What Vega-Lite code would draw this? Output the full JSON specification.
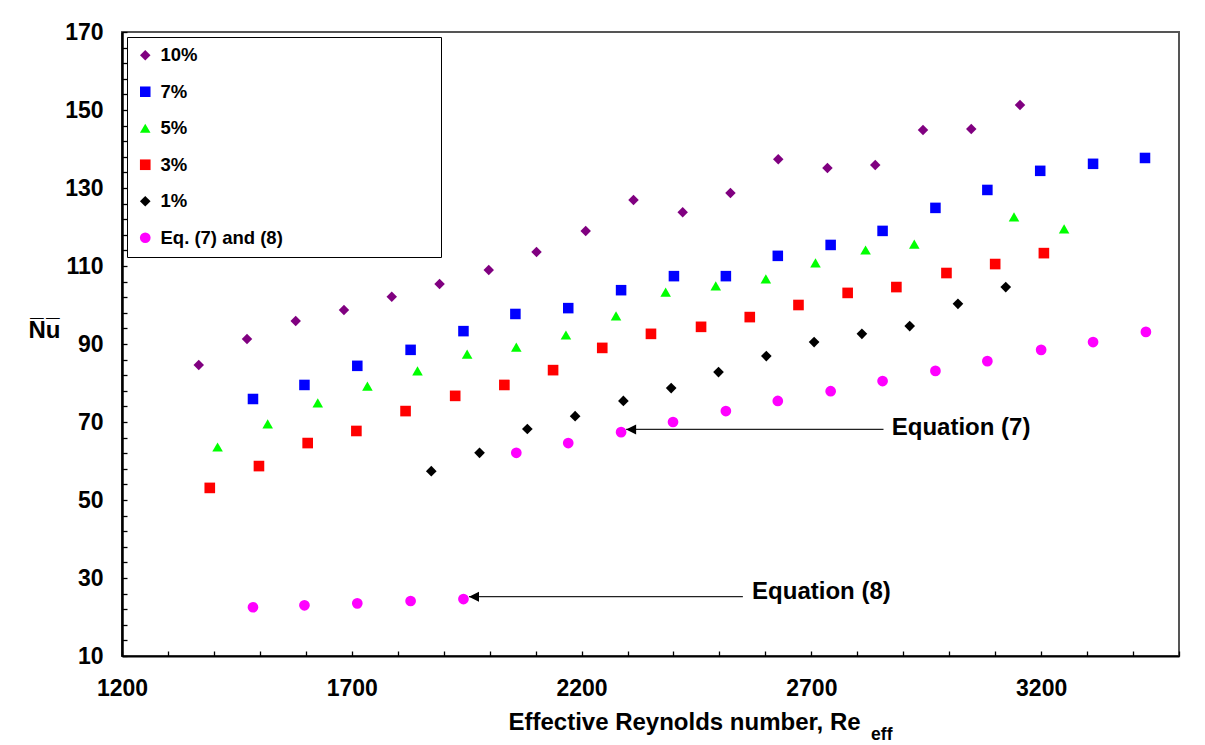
{
  "$schema": "https://vega.github.io/schema/vega-lite/v6.json",
  "width": 1057,
  "height": 624,
  "autosize": {"type": "none"},
  "padding": {"left": 122, "top": 32, "right": 26, "bottom": 89},
  "background": "white",
  "config": {
    "font": "Liberation Sans",
    "view": {"stroke": "#555555", "strokeWidth": 2},
    "axis": {
      "grid": false,
      "domainColor": "black",
      "domainWidth": 2,
      "tickColor": "black",
      "tickWidth": 1.3,
      "tickSize": -5,
      "labelFont": "Liberation Sans",
      "labelFontSize": 23,
      "labelFontWeight": "bold",
      "labelColor": "black",
      "titleFont": "Liberation Sans",
      "titleFontSize": 24,
      "titleFontWeight": "bold",
      "titleColor": "black"
    },
    "legend": {
      "orient": "none",
      "legendX": 5,
      "legendY": 5,
      "fillColor": "white",
      "strokeColor": "black",
      "strokeWidth": 1,
      "padding": 9,
      "rowPadding": 17.5,
      "labelFont": "Liberation Sans",
      "labelFontSize": 18.5,
      "labelFontWeight": "bold",
      "labelColor": "black",
      "labelOffset": 6,
      "labelLimit": 500,
      "symbolSize": 100,
      "symbolStrokeWidth": 0
    }
  },
  "datasets": {
    "points": [
      {"series": "10%", "re": 1367, "nu": 84.6},
      {"series": "10%", "re": 1472, "nu": 91.3},
      {"series": "10%", "re": 1578, "nu": 95.9},
      {"series": "10%", "re": 1683, "nu": 98.7},
      {"series": "10%", "re": 1787, "nu": 102.1},
      {"series": "10%", "re": 1891, "nu": 105.4},
      {"series": "10%", "re": 1998, "nu": 109.0},
      {"series": "10%", "re": 2102, "nu": 113.6},
      {"series": "10%", "re": 2209, "nu": 119.0},
      {"series": "10%", "re": 2313, "nu": 126.9},
      {"series": "10%", "re": 2420, "nu": 123.8},
      {"series": "10%", "re": 2524, "nu": 128.7},
      {"series": "10%", "re": 2628, "nu": 137.4},
      {"series": "10%", "re": 2735, "nu": 135.1},
      {"series": "10%", "re": 2839, "nu": 135.9},
      {"series": "10%", "re": 2943, "nu": 144.9},
      {"series": "10%", "re": 3048, "nu": 145.1},
      {"series": "10%", "re": 3154, "nu": 151.3},
      {"series": "7%", "re": 1485, "nu": 75.9},
      {"series": "7%", "re": 1597, "nu": 79.5},
      {"series": "7%", "re": 1712, "nu": 84.4},
      {"series": "7%", "re": 1828, "nu": 88.5},
      {"series": "7%", "re": 1943, "nu": 93.3},
      {"series": "7%", "re": 2056, "nu": 97.7},
      {"series": "7%", "re": 2171, "nu": 99.2},
      {"series": "7%", "re": 2286, "nu": 103.8},
      {"series": "7%", "re": 2401, "nu": 107.4},
      {"series": "7%", "re": 2514, "nu": 107.4},
      {"series": "7%", "re": 2627, "nu": 112.6},
      {"series": "7%", "re": 2742, "nu": 115.4},
      {"series": "7%", "re": 2855, "nu": 119.0},
      {"series": "7%", "re": 2970, "nu": 124.9},
      {"series": "7%", "re": 3083, "nu": 129.5},
      {"series": "7%", "re": 3198, "nu": 134.4},
      {"series": "7%", "re": 3313, "nu": 136.2},
      {"series": "7%", "re": 3426, "nu": 137.7},
      {"series": "5%", "re": 1408, "nu": 63.6},
      {"series": "5%", "re": 1517, "nu": 69.5},
      {"series": "5%", "re": 1626, "nu": 74.9},
      {"series": "5%", "re": 1734, "nu": 79.2},
      {"series": "5%", "re": 1843, "nu": 83.1},
      {"series": "5%", "re": 1951, "nu": 87.4},
      {"series": "5%", "re": 2058, "nu": 89.2},
      {"series": "5%", "re": 2166, "nu": 92.3},
      {"series": "5%", "re": 2275, "nu": 97.2},
      {"series": "5%", "re": 2383, "nu": 103.3},
      {"series": "5%", "re": 2492, "nu": 104.9},
      {"series": "5%", "re": 2601, "nu": 106.7},
      {"series": "5%", "re": 2709, "nu": 110.8},
      {"series": "5%", "re": 2818, "nu": 114.1},
      {"series": "5%", "re": 2924, "nu": 115.6},
      {"series": "5%", "re": 3141, "nu": 122.6},
      {"series": "5%", "re": 3250, "nu": 119.5},
      {"series": "3%", "re": 1391, "nu": 53.1},
      {"series": "3%", "re": 1498, "nu": 58.7},
      {"series": "3%", "re": 1604, "nu": 64.6},
      {"series": "3%", "re": 1710, "nu": 67.7},
      {"series": "3%", "re": 1817, "nu": 72.8},
      {"series": "3%", "re": 1925, "nu": 76.7},
      {"series": "3%", "re": 2032, "nu": 79.5},
      {"series": "3%", "re": 2138, "nu": 83.3},
      {"series": "3%", "re": 2245, "nu": 89.0},
      {"series": "3%", "re": 2351, "nu": 92.6},
      {"series": "3%", "re": 2460, "nu": 94.4},
      {"series": "3%", "re": 2566, "nu": 96.9},
      {"series": "3%", "re": 2672, "nu": 100.0},
      {"series": "3%", "re": 2779, "nu": 103.1},
      {"series": "3%", "re": 2885, "nu": 104.6},
      {"series": "3%", "re": 2994, "nu": 108.2},
      {"series": "3%", "re": 3100, "nu": 110.5},
      {"series": "3%", "re": 3206, "nu": 113.3},
      {"series": "1%", "re": 1873, "nu": 57.4},
      {"series": "1%", "re": 1978, "nu": 62.1},
      {"series": "1%", "re": 2082, "nu": 68.2},
      {"series": "1%", "re": 2186, "nu": 71.5},
      {"series": "1%", "re": 2291, "nu": 75.4},
      {"series": "1%", "re": 2395, "nu": 78.7},
      {"series": "1%", "re": 2498, "nu": 82.8},
      {"series": "1%", "re": 2602, "nu": 86.9},
      {"series": "1%", "re": 2706, "nu": 90.5},
      {"series": "1%", "re": 2810, "nu": 92.6},
      {"series": "1%", "re": 2914, "nu": 94.6},
      {"series": "1%", "re": 3019, "nu": 100.3},
      {"series": "1%", "re": 3123, "nu": 104.6},
      {"series": "Eq. (7) and (8)", "re": 2058, "nu": 62.1},
      {"series": "Eq. (7) and (8)", "re": 2171, "nu": 64.6},
      {"series": "Eq. (7) and (8)", "re": 2286, "nu": 67.4},
      {"series": "Eq. (7) and (8)", "re": 2399, "nu": 70.0},
      {"series": "Eq. (7) and (8)", "re": 2514, "nu": 72.8},
      {"series": "Eq. (7) and (8)", "re": 2627, "nu": 75.4},
      {"series": "Eq. (7) and (8)", "re": 2742, "nu": 77.9},
      {"series": "Eq. (7) and (8)", "re": 2855, "nu": 80.5},
      {"series": "Eq. (7) and (8)", "re": 2970, "nu": 83.1},
      {"series": "Eq. (7) and (8)", "re": 3083, "nu": 85.6},
      {"series": "Eq. (7) and (8)", "re": 3200, "nu": 88.5},
      {"series": "Eq. (7) and (8)", "re": 3313, "nu": 90.5},
      {"series": "Eq. (7) and (8)", "re": 3428, "nu": 93.1},
      {"series": "Eq. (7) and (8)", "re": 1485, "nu": 22.5},
      {"series": "Eq. (7) and (8)", "re": 1597, "nu": 23.0},
      {"series": "Eq. (7) and (8)", "re": 1712, "nu": 23.5},
      {"series": "Eq. (7) and (8)", "re": 1828, "nu": 24.1},
      {"series": "Eq. (7) and (8)", "re": 1943, "nu": 24.6}
    ],
    "notes": [
      {"label": "Equation (7)", "tip": 2297, "end": 2857, "arrowNu": 68.1, "labelRe": 2875, "labelNu": 68.4},
      {"label": "Equation (8)", "tip": 1955, "end": 2551, "arrowNu": 25.2, "labelRe": 2571, "labelNu": 26.5}
    ],
    "subscript": [
      {"text": "eff", "re": 2830, "nu": -11.5}
    ]
  },
  "resolve": {"axis": {"y": "independent"}},
  "layer": [
    {
      "data": {"name": "notes"},
      "mark": {"type": "rule", "color": "#222222", "strokeWidth": 1.2},
      "encoding": {
        "x": {"field": "tip", "type": "quantitative"},
        "x2": {"field": "end"},
        "y": {
          "field": "arrowNu",
          "type": "quantitative",
          "axis": {
            "orient": "left",
            "values": [10, 14, 18, 22, 26, 30, 34, 38, 42, 46, 50, 54, 58, 62, 66, 70, 74, 78, 82, 86, 90, 94, 98, 102, 106, 110, 114, 118, 122, 126, 130, 134, 138, 142, 146, 150, 154, 158, 162, 166, 170],
            "labels": false,
            "title": null
          }
        }
      }
    },
    {
      "data": {"name": "notes"},
      "mark": {"type": "point", "shape": "M0,0L2,-1L2,1Z", "filled": true, "color": "black", "opacity": 1, "size": 100},
      "encoding": {
        "x": {"field": "tip", "type": "quantitative"},
        "y": {"field": "arrowNu", "type": "quantitative", "axis": null}
      }
    },
    {
      "data": {"name": "notes"},
      "mark": {"type": "text", "align": "left", "baseline": "middle", "font": "Liberation Sans", "fontSize": 24, "fontWeight": "bold", "color": "black"},
      "encoding": {
        "x": {"field": "labelRe", "type": "quantitative"},
        "y": {"field": "labelNu", "type": "quantitative", "axis": null},
        "text": {"field": "label"}
      }
    },
    {
      "data": {"name": "points"},
      "mark": {"type": "point", "filled": true, "opacity": 1, "strokeWidth": 0},
      "encoding": {
        "x": {
          "field": "re",
          "type": "quantitative",
          "scale": {"domain": [1200, 3500], "nice": false, "zero": false},
          "axis": {
            "values": [1200, 1300, 1400, 1500, 1600, 1700, 1800, 1900, 2000, 2100, 2200, 2300, 2400, 2500, 2600, 2700, 2800, 2900, 3000, 3100, 3200, 3300, 3400, 3500],
            "format": "d",
            "labelExpr": "(datum.value - 1200) % 500 == 0 ? datum.label : ''",
            "labelPadding": 26,
            "labelFlush": false,
            "labelOverlap": false,
            "title": "Effective Reynolds number, Re",
            "titleAnchor": "start",
            "titleX": 562,
            "titleY": 73,
            "titleAlign": "center",
            "titleBaseline": "alphabetic"
          }
        },
        "y": {
          "field": "nu",
          "type": "quantitative",
          "scale": {"domain": [10, 170], "nice": false, "zero": false},
          "axis": {
            "orient": "left",
            "values": [10, 30, 50, 70, 90, 110, 130, 150, 170],
            "format": "d",
            "ticks": false,
            "labelPadding": 19,
            "labelFlush": false,
            "labelOverlap": false,
            "title": "N\u0305u\u0305",
            "titleAngle": 0,
            "titleAnchor": "start",
            "titleX": -78,
            "titleY": 305,
            "titleAlign": "center",
            "titleBaseline": "alphabetic"
          }
        },
        "color": {
          "field": "series",
          "type": "nominal",
          "scale": {
            "domain": ["10%", "7%", "5%", "3%", "1%", "Eq. (7) and (8)"],
            "range": ["#800080", "#0000FF", "#00FF00", "#FF0000", "#000000", "#FF00FF"]
          },
          "legend": {
            "title": null,
            "labelExpr": "datum.label == 'Eq. (7) and (8)' ? datum.label + '\u00a0\u00a0\u00a0\u00a0\u00a0\u00a0\u00a0\u00a0\u00a0\u00a0\u00a0\u00a0\u00a0\u00a0\u00a0\u00a0\u00a0\u00a0\u00a0\u00a0\u00a0\u00a0\u00a0\u00a0\u00a0\u00a0\u00a0\u00a0\u00a0\u200b' : datum.label"
          }
        },
        "shape": {
          "field": "series",
          "type": "nominal",
          "scale": {
            "domain": ["10%", "7%", "5%", "3%", "1%", "Eq. (7) and (8)"],
            "range": ["diamond", "square", "triangle-up", "square", "diamond", "circle"]
          },
          "legend": {
            "title": null,
            "labelExpr": "datum.label == 'Eq. (7) and (8)' ? datum.label + '\u00a0\u00a0\u00a0\u00a0\u00a0\u00a0\u00a0\u00a0\u00a0\u00a0\u00a0\u00a0\u00a0\u00a0\u00a0\u00a0\u00a0\u00a0\u00a0\u00a0\u00a0\u00a0\u00a0\u00a0\u00a0\u00a0\u00a0\u00a0\u00a0\u200b' : datum.label"
          }
        },
        "size": {
          "field": "series",
          "type": "nominal",
          "scale": {
            "domain": ["10%", "7%", "5%", "3%", "1%", "Eq. (7) and (8)"],
            "range": [110, 115, 140, 115, 110, 120]
          },
          "legend": null
        }
      }
    },
    {
      "data": {"name": "subscript"},
      "mark": {"type": "text", "align": "left", "baseline": "alphabetic", "font": "Liberation Sans", "fontSize": 17.5, "fontWeight": "bold", "color": "black"},
      "encoding": {
        "x": {"field": "re", "type": "quantitative"},
        "y": {"field": "nu", "type": "quantitative", "axis": null},
        "text": {"field": "text"}
      }
    }
  ]
}
